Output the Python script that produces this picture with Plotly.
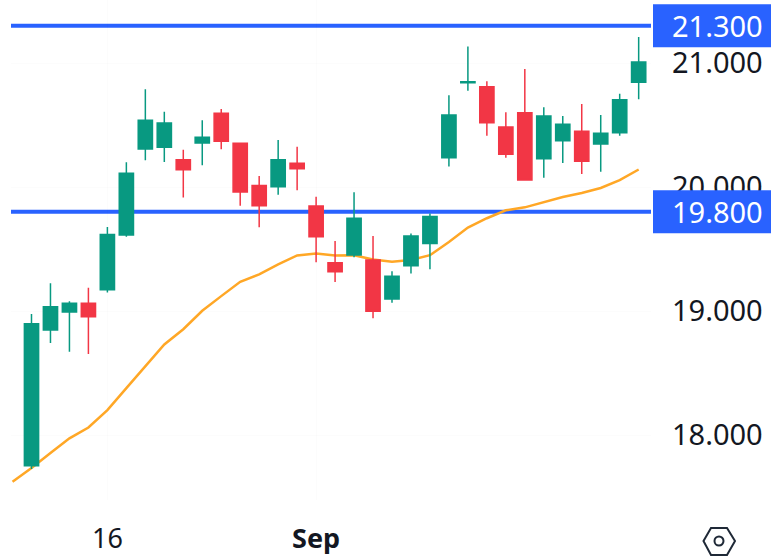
import plotly.graph_objects as go

# Session numbers: session 0 only has a moving-average value, candles start at session 1
ma_sessions = list(range(0, 34))
candle_sessions = list(range(1, 34))

opens = [17.753, 18.846, 18.992, 19.062, 19.171, 19.612, 20.307, 20.321, 20.220, 20.354, 20.594,
         20.352, 20.012, 20.002, 20.191, 19.847, 19.390, 19.452, 19.412, 19.097, 19.366, 19.545,
         20.236, 20.841, 20.809, 20.484, 20.599, 20.228, 20.373, 20.449, 20.346, 20.438, 20.845]
highs = [18.976, 19.223, 19.078, 19.188, 19.677, 20.199, 20.788, 20.607, 20.301, 20.538, 20.629,
         20.352, 20.088, 20.379, 20.325, 19.921, 19.565, 19.957, 19.604, 19.320, 19.626, 19.787,
         20.739, 21.134, 20.853, 20.602, 20.951, 20.643, 20.572, 20.670, 20.580, 20.752, 21.210]
lows = [17.726, 18.742, 18.671, 18.653, 19.150, 19.599, 20.215, 20.201, 19.916, 20.175, 20.304,
        19.849, 19.675, 19.937, 19.973, 19.393, 19.234, 19.434, 18.942, 19.067, 19.302, 19.337,
        20.166, 20.776, 20.414, 20.236, 20.056, 20.074, 20.193, 20.104, 20.123, 20.414, 20.707]
closes = [18.897, 19.034, 19.062, 18.954, 19.618, 20.110, 20.538, 20.517, 20.139, 20.401, 20.368,
          19.960, 19.849, 20.220, 20.147, 19.599, 19.317, 19.749, 18.998, 19.280, 19.604, 19.763,
          20.580, 20.849, 20.519, 20.264, 20.056, 20.572, 20.506, 20.207, 20.433, 20.703, 21.008]
moving_average = [17.624, 17.734, 17.855, 17.973, 18.061, 18.201, 18.378, 18.550, 18.730, 18.853,
                  19.002, 19.120, 19.235, 19.295, 19.376, 19.448, 19.464, 19.448, 19.450, 19.416,
                  19.397, 19.411, 19.450, 19.556, 19.673, 19.748, 19.812, 19.836, 19.877, 19.919,
                  19.951, 19.992, 20.055, 20.141]

levels = [21.3, 19.8]
level_labels = ["21.300", "19.800"]
y_ticks = [18, 19, 20, 21]
y_tick_labels = ["18.000", "19.000", "20.000", "21.000"]
x_ticks = [5, 16]
x_tick_labels = ["16", "<b>Sep</b>"]

GREEN = "#089981"
RED = "#F23645"
BLUE = "#2962FF"
ORANGE = "#FFA726"
FONT = "Noto Sans"
GRID = "rgba(0,0,0,0.012)"

W, H = 771, 559
L, R, T, B = 11, 120, 0, 59
PW, PH = W - L - R, H - T - B


def px(x):
    return (x - L) / PW


def py(y):
    return (H - B - y) / PH


fig = go.Figure()
fig.add_trace(go.Scatter(x=ma_sessions, y=moving_average, mode="lines",
                         line=dict(color=ORANGE, width=2.5), zorder=0, showlegend=False))
fig.add_trace(go.Candlestick(x=candle_sessions, open=opens, high=highs, low=lows, close=closes,
                             increasing=dict(line=dict(color=GREEN, width=1.5), fillcolor=GREEN),
                             decreasing=dict(line=dict(color=RED, width=1.5), fillcolor=RED),
                             whiskerwidth=0, zorder=1, showlegend=False))

shapes = [dict(type="line", xref="paper", x0=0, x1=1, yref="y", y0=v, y1=v, layer="between",
               line=dict(color=BLUE, width=4)) for v in levels]

# price badges: 43 px tall, from the end of the plot to the window edge, above the tick labels
BADGE_HALF = 21.5 / 124
for v in levels:
    shapes.append(dict(type="rect", xref="paper", x0=px(653), x1=px(771), yref="y",
                       y0=v - BADGE_HALF, y1=v + BADGE_HALF, layer="above",
                       fillcolor=BLUE, line=dict(width=0)))

# settings icon (hexagon with a circle) in the bottom right corner
hexagon = [(703.5, 541), (711, 528), (727, 528), (735, 541), (727, 555), (711, 555)]
path = "M " + " L ".join(f"{px(a):.5f},{py(b):.5f}" for a, b in hexagon) + " Z"
icon_line = dict(color="#1F2937", width=2)
shapes.append(dict(type="path", xref="paper", yref="paper", path=path, line=icon_line))
shapes.append(dict(type="circle", xref="paper", yref="paper", x0=px(714.5), x1=px(723.5),
                   y0=py(536.5), y1=py(545.5), line=icon_line))

annotations = [dict(xref="paper", yref="y", x=px(764), y=v, xanchor="right", yanchor="middle",
                    text=t, showarrow=False, borderpad=0,
                    font=dict(family=FONT, size=29, color="#FFFFFF"))
               for v, t in zip(levels, level_labels)]

fig.update_layout(
    width=W, height=H, autosize=False,
    margin=dict(l=L, r=R, t=T, b=B, pad=0),
    paper_bgcolor="#FFFFFF", plot_bgcolor="#FFFFFF",
    showlegend=False, shapes=shapes, annotations=annotations,
    font=dict(family=FONT, color="#131722"),
    boxgap=0.25, boxgroupgap=0,
    xaxis=dict(range=[-0.08, 33.65], rangeslider=dict(visible=False), tickmode="array",
               tickvals=x_ticks, ticktext=x_tick_labels, ticks="", showline=False, zeroline=False,
               showgrid=True, gridcolor=GRID, tickfont=dict(family=FONT, size=27, color="#131722"),
               ticklabelstandoff=20),
    yaxis=dict(side="right", range=[17.476, 21.508], tickmode="array", tickvals=y_ticks,
               ticktext=y_tick_labels, ticks="", showline=False, zeroline=False,
               showgrid=True, gridcolor=GRID, tickfont=dict(family=FONT, size=29, color="#131722"),
               ticklabelstandoff=20),
)

fig.write_html("out.html", config=dict(displayModeBar=False),
               post_script="document.body.style.margin='0';document.body.style.overflow='hidden';")
